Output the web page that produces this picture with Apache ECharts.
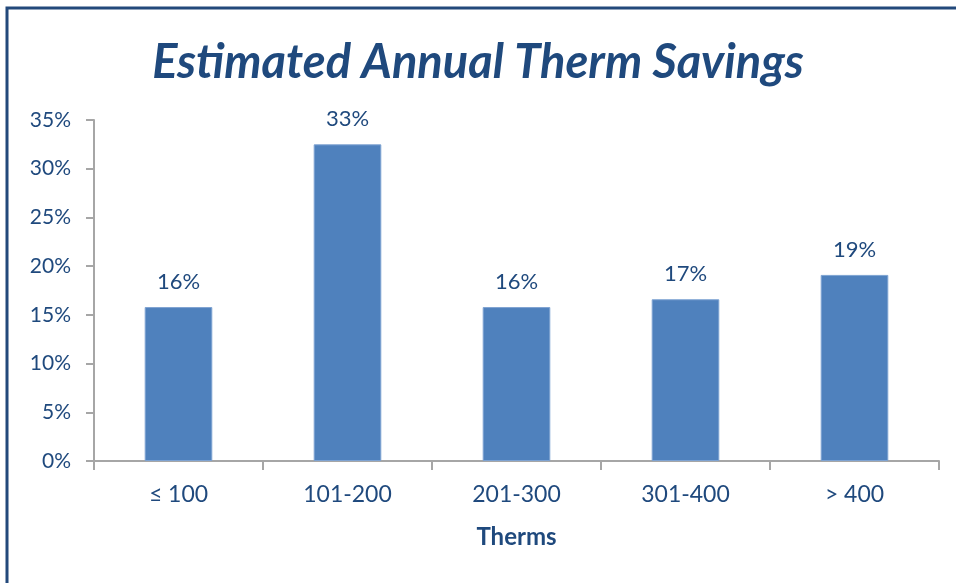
<!DOCTYPE html>
<html>
<head>
<meta charset="utf-8">
<script src="https://cdn.jsdelivr.net/npm/echarts@6/dist/echarts.min.js"></script>
<style>
  html, body { margin: 0; padding: 0; background: #fff; }
  #chart { width: 956px; height: 583px; }
</style>
</head>
<body>
<div id="chart"></div>
<script>
// Therm usage bands and the share of estimated annual savings in each
const categories = ['≤ 100', '101-200', '201-300', '301-400', '> 400'];
const savingsPct = [15.8, 32.5, 15.8, 16.6, 19.1];
const yTicks = [0, 5, 10, 15, 20, 25, 30, 35];

const TEXT = '#1F497D';
const FONT = 'Lato';

const chart = echarts.init(document.getElementById('chart'), null, { renderer: 'canvas' });

chart.setOption({
  backgroundColor: '#ffffff',
  animation: false,
  title: {
    text: 'Estimated Annual Therm Savings',
    left: 'center',
    top: 34,
    textStyle: {
      color: TEXT,
      fontFamily: FONT,
      fontSize: 47,
      fontWeight: 'bold',
      fontStyle: 'italic'
    }
  },
  graphic: [{
    type: 'rect',
    silent: true,
    shape: { x: 7, y: 8, width: 1200, height: 1200 },
    style: { fill: 'none', stroke: '#23497B', lineWidth: 3 }
  }],
  grid: { left: 94, right: 17, top: 120, bottom: 122, containLabel: false },
  xAxis: {
    type: 'category',
    data: categories,
    name: 'Therms',
    nameLocation: 'middle',
    nameGap: 64,
    nameTextStyle: { color: TEXT, fontFamily: FONT, fontSize: 24, fontWeight: 'bold' },
    axisLine: { lineStyle: { color: '#A6A6A6', width: 2 } },
    axisTick: { show: true, length: 9, lineStyle: { color: '#A6A6A6', width: 2 } },
    axisLabel: { color: TEXT, fontFamily: FONT, fontSize: 23, margin: 22 }
  },
  yAxis: {
    type: 'value',
    min: yTicks[0],
    max: yTicks[yTicks.length - 1],
    interval: 5,
    axisLine: { show: true, lineStyle: { color: '#A6A6A6', width: 2 } },
    axisTick: { show: true, length: 8, lineStyle: { color: '#A6A6A6', width: 2 } },
    splitLine: { show: false },
    axisLabel: {
      color: TEXT, fontFamily: FONT, fontSize: 21, margin: 23,
      formatter: v => v + '%'
    }
  },
  series: [{
    type: 'bar',
    data: savingsPct,
    barWidth: '40%',
    itemStyle: { color: '#4F81BD', borderColor: '#7EA3D2', borderWidth: 1 },
    label: {
      show: true,
      position: 'top',
      distance: 14,
      color: TEXT,
      fontFamily: FONT,
      fontSize: 22,
      formatter: p => Math.round(p.value) + '%'
    }
  }]
});
</script>
</body>
</html>
